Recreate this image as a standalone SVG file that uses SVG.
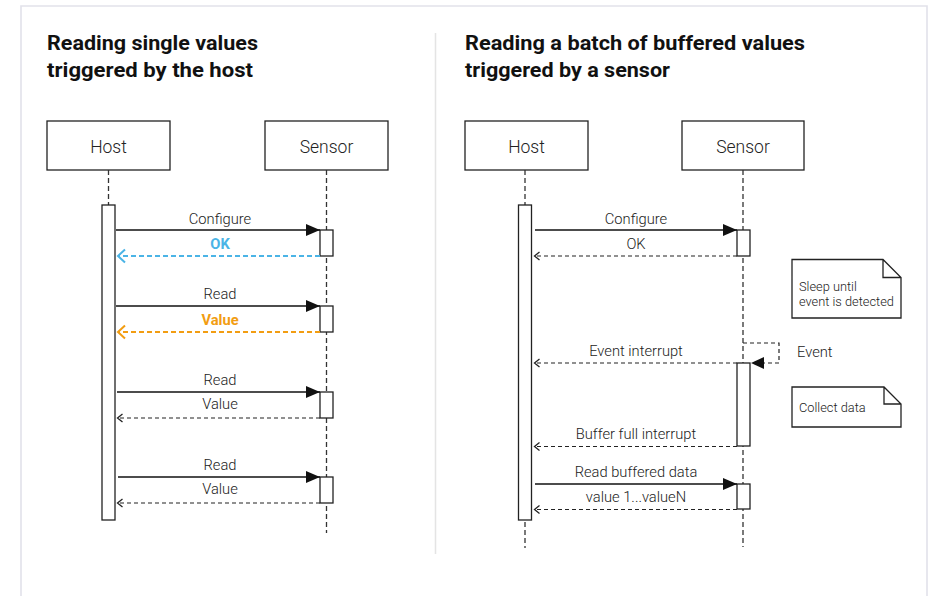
<svg xmlns="http://www.w3.org/2000/svg" width="930" height="596" viewBox="0 0 930 596">
<style>
.title{font-family:Roboto,"Liberation Sans",sans-serif;font-weight:700;font-size:20.5px;fill:#111}
.part{fill:#fff;stroke:#222;stroke-width:1.3}
.plabel{font-family:Roboto,"Liberation Sans",sans-serif;font-weight:300;font-size:17.5px;fill:#222;text-anchor:middle}
.life{stroke:#333;stroke-width:1.3;stroke-dasharray:5 3;fill:none}
.act{fill:#fff;stroke:#222;stroke-width:1.3}
.msg{stroke:#111;stroke-width:1.4;fill:none}
.ret{stroke:#222;stroke-width:1.2;stroke-dasharray:4 3;fill:none}
.lbl{font-family:Roboto,"Liberation Sans",sans-serif;font-weight:300;font-size:14.7px;fill:#222;text-anchor:middle}
.note{fill:#fff;stroke:#222;stroke-width:1.3}
.ntext{font-family:Roboto,"Liberation Sans",sans-serif;font-weight:300;font-size:12.8px;fill:#222}
</style>
<defs>
<marker id="solid" markerUnits="userSpaceOnUse" markerWidth="14" markerHeight="12" refX="14" refY="6" orient="auto">
<path d="M0,0 L14,6 L0,12 z" fill="#111"/>
</marker>
<marker id="open" markerUnits="userSpaceOnUse" markerWidth="8" markerHeight="12" refX="7" refY="6" orient="auto">
<path d="M1.5,2 L6.5,6 L1.5,10" fill="none" stroke="#222" stroke-width="1.3"/>
</marker>
<marker id="openBlue" markerUnits="userSpaceOnUse" markerWidth="10" markerHeight="16" refX="8" refY="8" orient="auto">
<path d="M1,1.5 L8,8 L1,14.5" fill="none" stroke="#4bb4e6" stroke-width="2"/>
</marker>
<marker id="openOrange" markerUnits="userSpaceOnUse" markerWidth="10" markerHeight="16" refX="8" refY="8" orient="auto">
<path d="M1,1.5 L8,8 L1,14.5" fill="none" stroke="#f29d12" stroke-width="2"/>
</marker>
</defs>
<rect x="0" y="0" width="930" height="596" fill="#fff"/>
<path d="M21,620 L21,6 L927,6 L927,620" fill="none" stroke="#e2e2ea" stroke-width="1.6"/>
<line x1="435.5" y1="33" x2="435.5" y2="554" stroke="#e4e4e4" stroke-width="1.5"/>

<g id="titles">
<text class="title" x="47" y="50" textLength="211" lengthAdjust="spacingAndGlyphs">Reading single values</text>
<text class="title" x="47" y="77" textLength="206" lengthAdjust="spacingAndGlyphs">triggered by the host</text>
<text class="title" x="465" y="50" textLength="340" lengthAdjust="spacingAndGlyphs">Reading a batch of buffered values</text>
<text class="title" x="465" y="77" textLength="205" lengthAdjust="spacingAndGlyphs">triggered by a sensor</text>
</g>

<g id="host-left">
<rect class="part" x="47" y="121" width="123" height="49"/>
<text class="plabel" x="108.5" y="153">Host</text>
<line class="life" x1="108.5" y1="170" x2="108.5" y2="205"/>
<rect class="act" x="102" y="205" width="13" height="315"/>
</g>
<g id="sensor-left">
<rect class="part" x="265" y="121" width="123" height="49"/>
<text class="plabel" x="326.5" y="153">Sensor</text>
<line class="life" x1="326.5" y1="170" x2="326.5" y2="533"/>
<rect class="act" x="320" y="230" width="13" height="26"/>
<rect class="act" x="320" y="306" width="13" height="26"/>
<rect class="act" x="320" y="392" width="13" height="26"/>
<rect class="act" x="320" y="477" width="13" height="26"/>
</g>
<g id="host-right">
<rect class="part" x="465" y="121" width="123" height="49"/>
<text class="plabel" x="526.5" y="153">Host</text>
<line class="life" x1="525" y1="170" x2="525" y2="548"/>
<rect class="act" x="518.5" y="205" width="13" height="315"/>
</g>
<g id="sensor-right">
<rect class="part" x="682" y="121" width="122" height="49"/>
<text class="plabel" x="743" y="153">Sensor</text>
<line class="life" x1="743" y1="170" x2="743" y2="547"/>
<rect class="act" x="737" y="230" width="13" height="26"/>
<rect class="act" x="737" y="363" width="13" height="83"/>
<rect class="act" x="737" y="484" width="13" height="25"/>
</g>
<g id="note-sleep">
<path class="note" d="M792,259.5 L883,259.5 L901,277.5 L901,318 L792,318 Z M883,259.5 L883,277.5 L901,277.5"/>
<text class="ntext" x="799" y="291">Sleep until</text>
<text class="ntext" x="799" y="306">event is detected</text>
</g>
<g id="note-collect">
<path class="note" d="M792,387 L884,387 L901,404 L901,427 L792,427 Z M884,387 L884,404 L901,404"/>
<text class="ntext" x="799" y="412">Collect data</text>
</g>

<g id="connectors">
<line class="msg" x1="116" y1="230" x2="320" y2="230" marker-end="url(#solid)"/>
<text class="lbl" x="220" y="224">Configure</text>
<line x1="320" y1="256" x2="118" y2="256" stroke="#4bb4e6" stroke-width="1.8" stroke-dasharray="5 3" marker-end="url(#openBlue)"/>
<text class="lbl" x="220" y="249" style="font-weight:700;fill:#4bb4e6">OK</text>
<line class="msg" x1="116" y1="306" x2="320" y2="306" marker-end="url(#solid)"/>
<text class="lbl" x="220" y="299">Read</text>
<line x1="320" y1="332" x2="118" y2="332" stroke="#f29d12" stroke-width="1.8" stroke-dasharray="5 3" marker-end="url(#openOrange)"/>
<text class="lbl" x="220" y="325" style="font-weight:700;fill:#f29d12">Value</text>
<line class="msg" x1="117" y1="392" x2="320" y2="392" marker-end="url(#solid)"/>
<text class="lbl" x="220" y="385">Read</text>
<line class="ret" x1="320" y1="418" x2="117" y2="418" marker-end="url(#open)"/>
<text class="lbl" x="220" y="409">Value</text>
<line class="msg" x1="118" y1="477" x2="320" y2="477" marker-end="url(#solid)"/>
<text class="lbl" x="220" y="470">Read</text>
<line class="ret" x1="320" y1="503" x2="117" y2="503" marker-end="url(#open)"/>
<text class="lbl" x="220" y="494">Value</text>

<line class="msg" x1="535" y1="230" x2="737" y2="230" marker-end="url(#solid)"/>
<text class="lbl" x="636" y="224">Configure</text>
<line class="ret" x1="737" y1="256" x2="534" y2="256" marker-end="url(#open)"/>
<text class="lbl" x="636" y="249">OK</text>
<path class="ret" d="M743,343 L779,343 L779,363 L764,363"/>
<path d="M751,363 L764,357 L764,369 z" fill="#111"/>
<text class="lbl" x="797" y="357" style="text-anchor:start">Event</text>
<line class="ret" x1="737" y1="363" x2="534" y2="363" marker-end="url(#open)"/>
<text class="lbl" x="636" y="356">Event interrupt</text>
<line class="ret" x1="737" y1="446.5" x2="534" y2="446.5" marker-end="url(#open)"/>
<text class="lbl" x="636" y="439">Buffer full interrupt</text>
<line class="msg" x1="535" y1="484" x2="737" y2="484" marker-end="url(#solid)"/>
<text class="lbl" x="636" y="477">Read buffered data</text>
<line class="ret" x1="737" y1="509.5" x2="534" y2="509.5" marker-end="url(#open)"/>
<text class="lbl" x="636" y="502">value 1...valueN</text>
</g>
</svg>
